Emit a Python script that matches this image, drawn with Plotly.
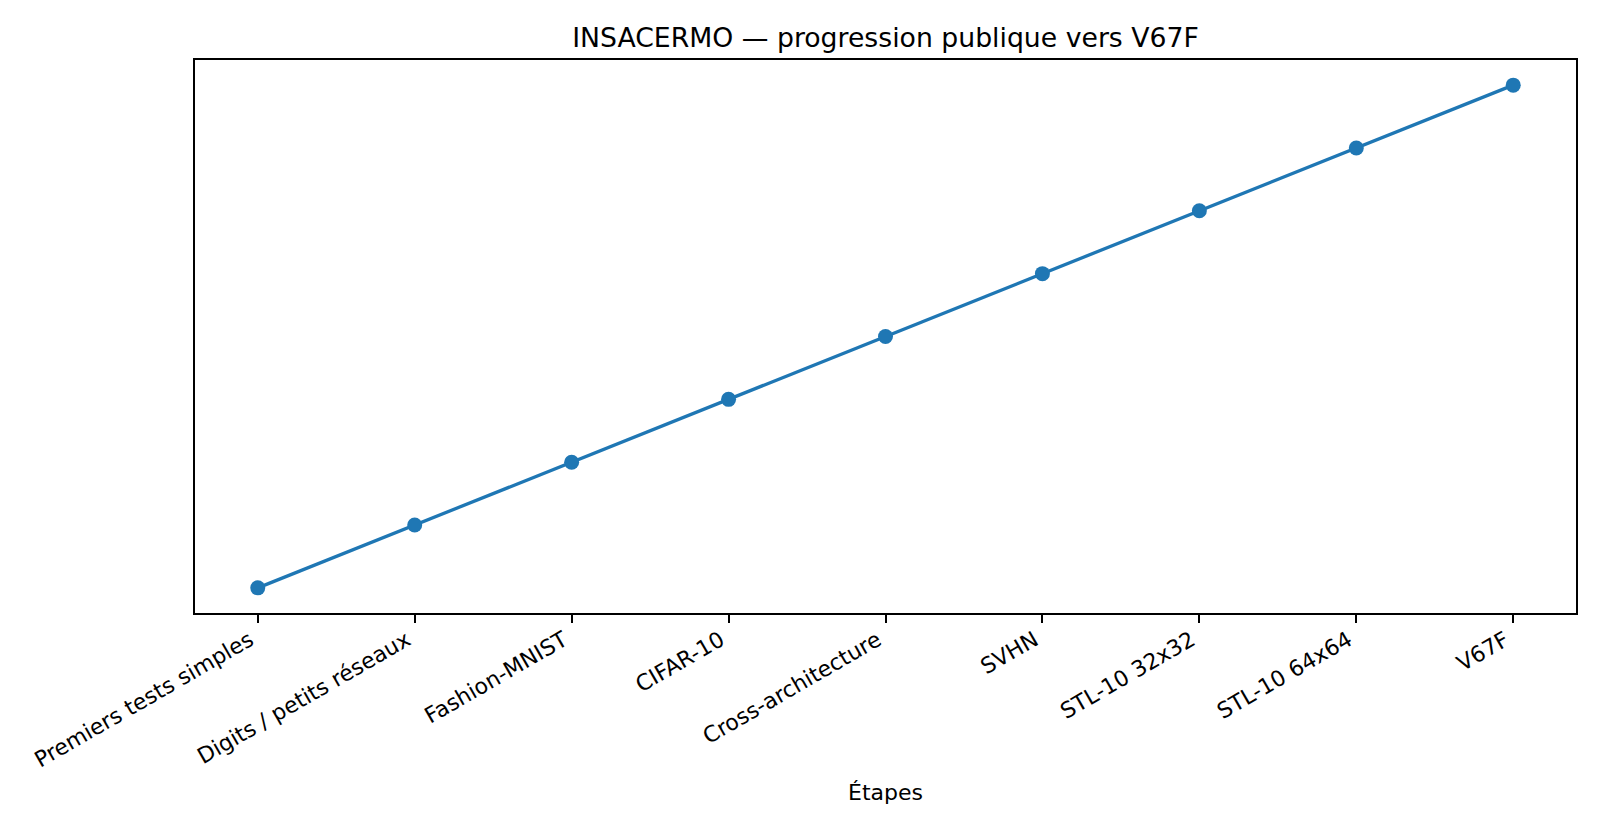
import plotly.graph_objects as go

etapes = ["Premiers tests simples", "Digits / petits réseaux", "Fashion-MNIST", "CIFAR-10",
          "Cross-architecture", "SVHN", "STL-10 32x32", "STL-10 64x64", "V67F"]
progression = [1, 2, 3, 4, 5, 6, 7, 8, 9]

W, H = 1600, 832
L, R, T, B = 195, 1576, 60, 613
FONT = "DejaVu Sans"
BLUE = "#1f77b4"

fig = go.Figure()
fig.add_trace(go.Scatter(
    x=list(range(len(etapes))), y=progression, mode="lines+markers",
    line=dict(color=BLUE, width=3.3),
    marker=dict(color=BLUE, size=15, line=dict(width=0)),
    showlegend=False, hoverinfo="skip",
))

n = len(etapes)
fig.update_layout(
    width=W, height=H, autosize=False,
    margin=dict(l=L, r=W - R, t=T, b=H - B, pad=0),
    paper_bgcolor="white", plot_bgcolor="white",
    font=dict(family=FONT, color="black", size=22),
    title=dict(text="INSACERMO — progression publique vers V67F",
               x=0.5, xref="paper", xanchor="center",
               y=1 - 38 / H, yref="container", yanchor="middle",
               font=dict(family=FONT, size=26.7, color="black")),
    xaxis=dict(
        range=[-0.4, n - 1 + 0.4],
        tickmode="array", tickvals=list(range(n)), ticktext=etapes,
        tickangle=-30, ticks="outside", ticklen=8, tickwidth=1.8, tickcolor="black",
        ticklabelshift=-8, ticklabelstandoff=-4,
        showline=True, linecolor="black", linewidth=1.8, mirror=True,
        showgrid=False, zeroline=False,
        tickfont=dict(family=FONT, size=22, color="black"),
    ),
    yaxis=dict(
        range=[progression[0] - 0.4, progression[-1] + 0.4],
        showticklabels=False, ticks="",
        showline=True, linecolor="black", linewidth=1.8, mirror=True,
        showgrid=False, zeroline=False,
    ),
    annotations=[dict(text="Étapes", x=0.5, xref="paper", xanchor="center",
                      y=(B - 793) / (B - T), yref="paper", yanchor="middle",
                      showarrow=False, font=dict(family=FONT, size=22, color="black"))],
)

fig.write_html("out.html")
